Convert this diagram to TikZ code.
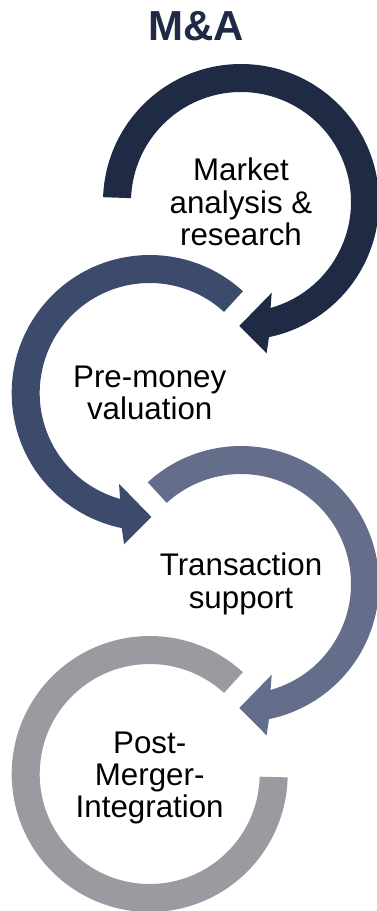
\documentclass[tikz,border=0pt]{standalone}
\usepackage{fontspec}
\setmainfont{Liberation Sans}
\usetikzlibrary{calc}
\definecolor{arcone}{HTML}{1F2A44}
\definecolor{arctwo}{HTML}{3C4A6B}
\definecolor{arcthree}{HTML}{646E8A}
\definecolor{arcfour}{HTML}{9A9BA0}
\begin{document}
\begin{tikzpicture}[x=1pt,y=1pt,
  steptext/.style={align=center, font=\fontsize{31.3}{32.3}\selectfont, text=black, inner sep=0pt},
  titletext/.style={font=\bfseries\fontsize{42}{42}\selectfont, text=arcone, inner sep=0pt, anchor=base}]
\useasboundingbox (0,0) rectangle (377,-911);
\coordinate (c1) at (241,-202);
\coordinate (c2) at (149.7,-393);
\coordinate (c3) at (241,-584);
\coordinate (c4) at (149.7,-774);

\begin{scope}[shift={(c1)}]
\fill[arcone] (178:138) arc[start angle=178, end angle=-78.3, radius=138]
  -- (-80.4:153.5) -- (-90.8:124) -- (-71.3:95.8) -- (-74.4:110)
  arc[start angle=-74.4, end angle=178, radius=110] -- cycle;
\end{scope}

\begin{scope}[shift={(c2)}]
\fill[arctwo] (47.5:138) arc[start angle=47.5, end angle=258.3, radius=138]
  -- (260.4:153.5) -- (270.8:124) -- (251.3:95.8) -- (254.4:110)
  arc[start angle=254.4, end angle=47.5, radius=110] -- cycle;
\end{scope}

\begin{scope}[shift={(c3)}]
\fill[arcthree] (132.5:138) arc[start angle=132.5, end angle=-78.3, radius=138]
  -- (-80.4:153.5) -- (-90.8:124) -- (-71.3:95.8) -- (-74.4:110)
  arc[start angle=-74.4, end angle=132.5, radius=110] -- cycle;
\end{scope}

\begin{scope}[shift={(c4)}]
\fill[arcfour] (47.5:138) arc[start angle=47.5, end angle=358.6, radius=138]
  -- (358.6:110)
  arc[start angle=358.6, end angle=47.5, radius=110] -- cycle;
\end{scope}

\node[titletext] (title) at (196,-40) {M\&A};
\node[steptext] (t1) at (c1) {Market\\analysis \&\\research};
\node[steptext] (t2) at (c2) {Pre-money\\valuation};
\node[steptext] (t3) at (c3) {Transaction\\support};
\node[steptext, yshift=-4pt] (t4) at (c4) {Post-\\Merger-\\Integration};
\end{tikzpicture}
\end{document}
